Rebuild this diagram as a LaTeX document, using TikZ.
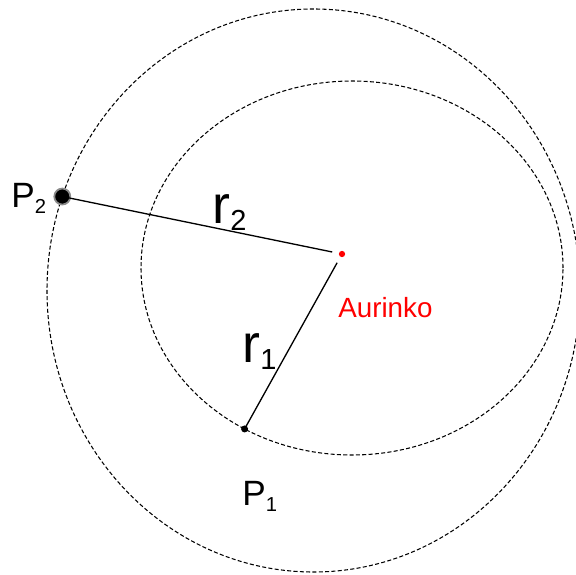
\documentclass[tikz,border=0pt]{standalone}
\usepackage{fontspec}
\setmainfont{Liberation Sans}
\usepackage{tikz}
\usetikzlibrary{positioning,calc}
\usepackage{xcolor}
\definecolor{sunred}{HTML}{FF0000}
\definecolor{ink}{HTML}{000000}
\definecolor{halo}{HTML}{8A8A8A}
\newcommand{\Psub}[1]{P\raisebox{-3.5pt}{\fontsize{11.5}{12}\selectfont#1}}
\newcommand{\rsub}[1]{r\raisebox{-4pt}{\fontsize{16.5}{17}\selectfont#1}}
\tikzset{
  orbit/.style={ink, dashed, dash pattern=on 2.3pt off 1.3pt, line width=0.6pt},
  radius/.style={ink, line width=0.75pt},
  planet/.style={circle, fill=ink, inner sep=0pt, minimum size=0.14cm},
  ptlabel/.style={inner sep=0pt, anchor=base west, font=\fontsize{20}{22}\selectfont},
  rlabel/.style={inner sep=0pt, anchor=base west, font=\fontsize{30.6}{32}\selectfont}
}
\begin{document}
\begin{tikzpicture}
    \useasboundingbox (0,0) rectangle (11.52,11.48);
    \coordinate (outer) at (6.27,5.67);
    \coordinate (inner) at (7.04,6.12);
    \begin{scope}
      \clip (0,0) rectangle (11.52,11.48);
      \draw[orbit] (outer) ellipse (5.33 and 5.63);
      \draw[orbit] (inner) ellipse (4.22 and 3.74);
    \end{scope}
    \node[circle, fill=sunred, inner sep=0pt, minimum size=0.126cm, outer sep=3.9pt] (sun) at (6.84,6.40) {};
    \node[planet] (p1) at ($(inner)+(239.4:4.22 and 3.74)$) {};
    \node[planet, minimum size=0.32cm, draw=halo, line width=1pt] (p2) at ($(outer)+(160.5:5.33 and 5.63)$) {};
    \draw[radius] (p2.center) -- (sun);
    \draw[radius] (sun) -- (p1.center);
    \node[ptlabel] (p2lab) at (0.22,7.34) {\Psub{2}};
    \node[ptlabel] (p1lab) at (4.84,1.38) {\Psub{1}};
    \node[rlabel] (r2lab) at (4.24,7.02) {\rsub{2}};
    \node[rlabel] (r1lab) at (4.84,4.24) {\rsub{1}};
    \node[sunred, inner sep=0pt, anchor=base west, font=\fontsize{15.8}{17}\selectfont] (sunlab) at (6.76,5.14) {Aurinko};
  \end{tikzpicture}
\end{document}
